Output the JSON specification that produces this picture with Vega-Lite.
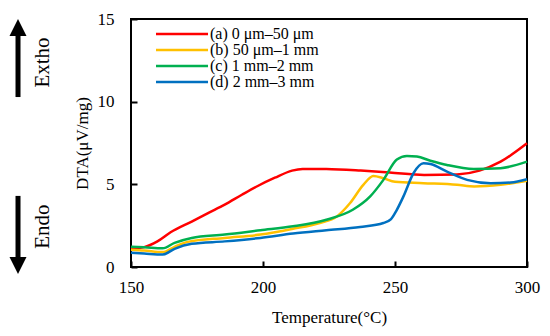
{
  "$schema": "https://vega.github.io/schema/vega-lite/v6.json",
  "width": 396,
  "height": 248,
  "autosize": {"type": "none"},
  "padding": {"left": 131, "top": 19, "right": 23, "bottom": 69},
  "background": "white",
  "config": {
    "view": {"stroke": "black", "strokeWidth": 2},
    "font": "Liberation Serif, serif",
    "axis": {
      "domain": false,
      "grid": false,
      "tickColor": "black",
      "tickWidth": 2,
      "tickSize": -6,
      "labelFlush": false,
      "labelColor": "black",
      "labelFont": "Liberation Serif, serif",
      "labelFontSize": 17,
      "titleFont": "Liberation Serif, serif",
      "titleFontSize": 17,
      "titleFontWeight": "normal",
      "titleColor": "black"
    },
    "legend": {
      "labelFont": "Liberation Serif, serif"
    }
  },
  "datasets": {
    "curves": [
      {"s": "(a) 0 μm–50 μm", "T": 150, "v": 1.1},
      {"s": "(a) 0 μm–50 μm", "T": 155, "v": 1.2},
      {"s": "(a) 0 μm–50 μm", "T": 160, "v": 1.55},
      {"s": "(a) 0 μm–50 μm", "T": 165, "v": 2.1},
      {"s": "(a) 0 μm–50 μm", "T": 173, "v": 2.75},
      {"s": "(a) 0 μm–50 μm", "T": 179, "v": 3.25},
      {"s": "(a) 0 μm–50 μm", "T": 185.5, "v": 3.77},
      {"s": "(a) 0 μm–50 μm", "T": 192, "v": 4.37},
      {"s": "(a) 0 μm–50 μm", "T": 198, "v": 4.9},
      {"s": "(a) 0 μm–50 μm", "T": 204.5, "v": 5.4},
      {"s": "(a) 0 μm–50 μm", "T": 211, "v": 5.83},
      {"s": "(a) 0 μm–50 μm", "T": 215, "v": 5.93},
      {"s": "(a) 0 μm–50 μm", "T": 224, "v": 5.92},
      {"s": "(a) 0 μm–50 μm", "T": 237, "v": 5.83},
      {"s": "(a) 0 μm–50 μm", "T": 248, "v": 5.72},
      {"s": "(a) 0 μm–50 μm", "T": 261, "v": 5.57},
      {"s": "(a) 0 μm–50 μm", "T": 273.5, "v": 5.6},
      {"s": "(a) 0 μm–50 μm", "T": 282, "v": 5.83},
      {"s": "(a) 0 μm–50 μm", "T": 290, "v": 6.37},
      {"s": "(a) 0 μm–50 μm", "T": 300, "v": 7.48},
      {"s": "(b) 50 μm–1 mm", "T": 150, "v": 1.05},
      {"s": "(b) 50 μm–1 mm", "T": 155, "v": 1.0},
      {"s": "(b) 50 μm–1 mm", "T": 162, "v": 0.9},
      {"s": "(b) 50 μm–1 mm", "T": 166.5, "v": 1.22},
      {"s": "(b) 50 μm–1 mm", "T": 171.5, "v": 1.52},
      {"s": "(b) 50 μm–1 mm", "T": 185.5, "v": 1.76},
      {"s": "(b) 50 μm–1 mm", "T": 199, "v": 1.96},
      {"s": "(b) 50 μm–1 mm", "T": 211, "v": 2.3},
      {"s": "(b) 50 μm–1 mm", "T": 221.5, "v": 2.66},
      {"s": "(b) 50 μm–1 mm", "T": 228, "v": 3.06},
      {"s": "(b) 50 μm–1 mm", "T": 233, "v": 3.87},
      {"s": "(b) 50 μm–1 mm", "T": 238, "v": 4.97},
      {"s": "(b) 50 μm–1 mm", "T": 241.8, "v": 5.5},
      {"s": "(b) 50 μm–1 mm", "T": 245.6, "v": 5.37},
      {"s": "(b) 50 μm–1 mm", "T": 250, "v": 5.15},
      {"s": "(b) 50 μm–1 mm", "T": 260.8, "v": 5.07},
      {"s": "(b) 50 μm–1 mm", "T": 273.5, "v": 4.97},
      {"s": "(b) 50 μm–1 mm", "T": 280, "v": 4.87},
      {"s": "(b) 50 μm–1 mm", "T": 290, "v": 4.97},
      {"s": "(b) 50 μm–1 mm", "T": 300, "v": 5.21},
      {"s": "(c) 1 mm–2 mm", "T": 150, "v": 1.22},
      {"s": "(c) 1 mm–2 mm", "T": 155, "v": 1.19},
      {"s": "(c) 1 mm–2 mm", "T": 162, "v": 1.13},
      {"s": "(c) 1 mm–2 mm", "T": 166.5, "v": 1.46},
      {"s": "(c) 1 mm–2 mm", "T": 173, "v": 1.76},
      {"s": "(c) 1 mm–2 mm", "T": 185.5, "v": 1.96},
      {"s": "(c) 1 mm–2 mm", "T": 199, "v": 2.22},
      {"s": "(c) 1 mm–2 mm", "T": 211.4, "v": 2.46},
      {"s": "(c) 1 mm–2 mm", "T": 224, "v": 2.86},
      {"s": "(c) 1 mm–2 mm", "T": 234, "v": 3.46},
      {"s": "(c) 1 mm–2 mm", "T": 240.6, "v": 4.27},
      {"s": "(c) 1 mm–2 mm", "T": 245.6, "v": 5.27},
      {"s": "(c) 1 mm–2 mm", "T": 250.7, "v": 6.5},
      {"s": "(c) 1 mm–2 mm", "T": 254.5, "v": 6.72},
      {"s": "(c) 1 mm–2 mm", "T": 258.3, "v": 6.68},
      {"s": "(c) 1 mm–2 mm", "T": 263.4, "v": 6.43},
      {"s": "(c) 1 mm–2 mm", "T": 269.7, "v": 6.17},
      {"s": "(c) 1 mm–2 mm", "T": 279.8, "v": 5.93},
      {"s": "(c) 1 mm–2 mm", "T": 290, "v": 5.98},
      {"s": "(c) 1 mm–2 mm", "T": 300, "v": 6.37},
      {"s": "(d) 2 mm–3 mm", "T": 150, "v": 0.86},
      {"s": "(d) 2 mm–3 mm", "T": 155, "v": 0.81},
      {"s": "(d) 2 mm–3 mm", "T": 162, "v": 0.75},
      {"s": "(d) 2 mm–3 mm", "T": 166.5, "v": 1.1},
      {"s": "(d) 2 mm–3 mm", "T": 173, "v": 1.4},
      {"s": "(d) 2 mm–3 mm", "T": 185.5, "v": 1.55},
      {"s": "(d) 2 mm–3 mm", "T": 199, "v": 1.76},
      {"s": "(d) 2 mm–3 mm", "T": 211.4, "v": 2.02},
      {"s": "(d) 2 mm–3 mm", "T": 224, "v": 2.22},
      {"s": "(d) 2 mm–3 mm", "T": 236.8, "v": 2.42},
      {"s": "(d) 2 mm–3 mm", "T": 245.6, "v": 2.66},
      {"s": "(d) 2 mm–3 mm", "T": 248.5, "v": 2.9},
      {"s": "(d) 2 mm–3 mm", "T": 250.5, "v": 3.4},
      {"s": "(d) 2 mm–3 mm", "T": 253.2, "v": 4.27},
      {"s": "(d) 2 mm–3 mm", "T": 257, "v": 5.67},
      {"s": "(d) 2 mm–3 mm", "T": 260.8, "v": 6.27},
      {"s": "(d) 2 mm–3 mm", "T": 263.4, "v": 6.23},
      {"s": "(d) 2 mm–3 mm", "T": 269.7, "v": 5.77},
      {"s": "(d) 2 mm–3 mm", "T": 277.3, "v": 5.27},
      {"s": "(d) 2 mm–3 mm", "T": 286.2, "v": 5.07},
      {"s": "(d) 2 mm–3 mm", "T": 293.8, "v": 5.11},
      {"s": "(d) 2 mm–3 mm", "T": 300, "v": 5.31}
    ],
    "ann": [
      {"label": "Extho", "dir": "up", "ax": 107.2, "s0": 10.28, "s1": 14.15, "head": 14.48, "tx": 116.6, "ty": 12.37},
      {"label": "Endo", "dir": "down", "ax": 107.2, "s0": 0.42, "s1": 4.3, "head": 0.09, "tx": 116.6, "ty": 2.44}
    ]
  },
  "layer": [
    {
      "data": {"name": "curves"},
      "mark": {"type": "line", "interpolate": "monotone", "strokeWidth": 2.5},
      "encoding": {
        "x": {
          "field": "T", "type": "quantitative",
          "scale": {"domain": [150, 300], "nice": false, "zero": false},
          "axis": {"values": [150, 200, 250, 300], "title": "Temperature(°C)", "labelPadding": 18, "titlePadding": 14}
        },
        "y": {
          "field": "v", "type": "quantitative",
          "scale": {"domain": [0, 15], "nice": false},
          "axis": {"values": [0, 5, 10, 15], "title": "DTA(μV/mg)", "labelPadding": 23, "titlePadding": 6}
        },
        "color": {
          "field": "s", "type": "nominal",
          "scale": {
            "domain": ["(a) 0 μm–50 μm", "(b) 50 μm–1 mm", "(c) 1 mm–2 mm", "(d) 2 mm–3 mm"],
            "range": ["#FF0000", "#FFC000", "#00B050", "#0070C0"]
          },
          "legend": {
            "title": null,
            "orient": "none",
            "legendX": 23,
            "legendY": 8,
            "padding": 0,
            "symbolType": "M-1,0H7.67",
            "symbolSize": 144,
            "symbolStrokeWidth": 2.5,
            "labelFont": "Liberation Serif, serif",
            "labelFontSize": 16,
            "labelColor": "black",
            "labelOffset": 40,
            "rowPadding": 0,
            "clipHeight": 14
          }
        }
      }
    },
    {
      "data": {"name": "ann"},
      "mark": {"type": "rule", "strokeWidth": 5, "color": "black"},
      "encoding": {
        "x": {"field": "ax", "type": "quantitative"},
        "y": {"field": "s0", "type": "quantitative"},
        "y2": {"field": "s1"}
      }
    },
    {
      "data": {"name": "ann"},
      "mark": {"type": "point", "filled": true, "color": "black", "size": 289, "opacity": 1},
      "encoding": {
        "x": {"field": "ax", "type": "quantitative"},
        "y": {"field": "head", "type": "quantitative"},
        "shape": {
          "field": "dir", "type": "nominal",
          "scale": {"domain": ["up", "down"], "range": ["M0,-1L1,1L-1,1Z", "M0,1L1,-1L-1,-1Z"]},
          "legend": null
        }
      }
    },
    {
      "data": {"name": "ann"},
      "mark": {"type": "text", "angle": 270, "align": "center", "baseline": "middle", "font": "Liberation Serif, serif", "fontSize": 21, "color": "black"},
      "encoding": {
        "x": {"field": "tx", "type": "quantitative"},
        "y": {"field": "ty", "type": "quantitative"},
        "text": {"field": "label"}
      }
    }
  ]
}
